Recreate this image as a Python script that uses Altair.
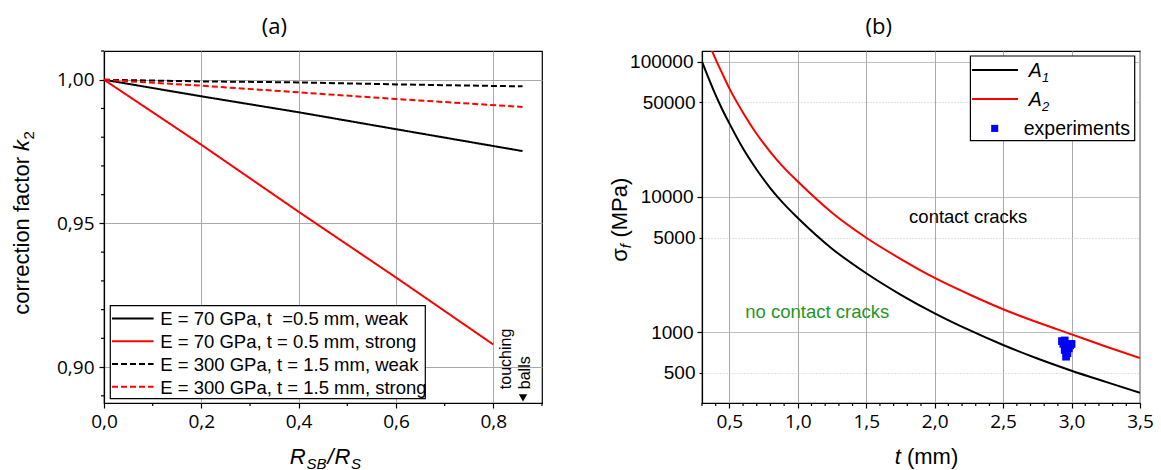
import altair as alt
import pandas as pd

# ---------------- Panel (a) data ----------------
series_a = [
    "E = 70 GPa, t \u00a0=0.5 mm, weak",
    "E = 70 GPa, t = 0.5 mm, strong",
    "E = 300 GPa, t = 1.5 mm, weak",
    "E = 300 GPa, t = 1.5 mm, strong",
]
colors_a = ["black", "red", "black", "red"]
dashes_a = [[1, 0], [1, 0], [6, 3], [6, 3]]
x_70_weak = [0.0, 0.2, 0.4, 0.6, 0.86]
k2_70_weak = [1.0, 0.99423, 0.98868, 0.98279, 0.97517]
x_70_strong = [0.0, 0.2, 0.4, 0.6, 0.8]
k2_70_strong = [1.0, 0.97737, 0.95404, 0.93118, 0.90785]
x_300_weak = [0.0, 0.2, 0.4, 0.6, 0.86]
k2_300_weak = [1.0, 0.99942, 0.99908, 0.99838, 0.99769]
x_300_strong = [0.0, 0.2, 0.4, 0.6, 0.86]
k2_300_strong = [1.0, 0.99792, 0.99561, 0.99330, 0.99053]

xa_major = [0.0, 0.2, 0.4, 0.6, 0.8]
xa_minor = [0.1, 0.3, 0.5, 0.7, 0.9]
ya_major = [0.90, 0.95, 1.00]
ya_minor = [0.89, 0.91, 0.92, 0.93, 0.94, 0.96, 0.97, 0.98, 0.99, 1.01]

# annotation (touching balls)
touch_x = [0.827, 0.866]
touch_y = [0.8923, 0.8923]
touch_txt = ["touching", "balls"]
arrow_x = [0.861]
arrow_y = [0.8893]

# ---------------- Panel (b) data ----------------
t_A1 = [0.3, 0.35, 0.4, 0.45, 0.5, 0.6, 0.7, 0.8, 0.9, 1.0, 1.25, 1.5, 1.75, 2.0, 2.25, 2.5, 2.75, 3.0, 3.25, 3.5]
s_A1 = [100000, 74800, 56700, 44000, 35000, 22800, 15900, 11600, 8850, 7000, 4150, 2730, 1900, 1380, 1040, 805, 640, 520, 430, 357]
t_A2 = [0.35, 0.4, 0.45, 0.5, 0.6, 0.7, 0.8, 0.9, 1.0, 1.25, 1.5, 1.75, 2.0, 2.25, 2.5, 2.75, 3.0, 3.25, 3.5]
s_A2 = [137000, 104000, 81000, 63500, 42000, 29200, 21500, 16400, 13000, 7650, 5000, 3490, 2520, 1910, 1480, 1185, 965, 785, 645]
t_exp = [2.93, 2.95, 2.94, 2.96, 2.95, 2.97, 2.96, 2.99, 3.00, 2.98]
s_exp = [860, 870, 820, 780, 740, 700, 660, 800, 820, 760]

xb_major = [0.5, 1.0, 1.5, 2.0, 2.5, 3.0, 3.5]
xb_minor = [0.3, 0.4, 0.6, 0.7, 0.8, 0.9, 1.1, 1.2, 1.3, 1.4, 1.6, 1.7, 1.8, 1.9,
            2.1, 2.2, 2.3, 2.4, 2.6, 2.7, 2.8, 2.9, 3.1, 3.2, 3.3, 3.4]
yb_ticks = [500, 1000, 5000, 10000, 50000, 100000]

region_txt = ["contact cracks", "no contact cracks"]
region_t = [1.813, 0.616]
region_s = [6440, 1274]
region_col = ["black", "#1f961f"]

legend_b = ["A", "A", "experiments"]
legend_b_sub = ["1", "2", ""]

W, H = 438, 352
FONT = "Liberation Sans"
TICKFONT = "Open Sans"

one = pd.DataFrame({"a": [0]})


def txt(text, x, y, size=22, style="normal", angle=0, align="left", baseline="alphabetic", color="black", font=FONT):
    return alt.Chart(one).mark_text(text=text, angle=angle, align=align, baseline=baseline, fontSize=size,
                                    fontStyle=style, font=font, color=color).encode(x=alt.value(x), y=alt.value(y))


# ---------------- Panel (a) ----------------
rows = []
for name, xs, ys in zip(series_a,
                        [x_70_weak, x_70_strong, x_300_weak, x_300_strong],
                        [k2_70_weak, k2_70_strong, k2_300_weak, k2_300_strong]):
    for xv, yv in zip(xs, ys):
        rows.append({"r": xv, "k2": yv, "series": name})
df_a = pd.DataFrame(rows)

x_a = alt.X("r:Q", scale=alt.Scale(domain=[0, 0.9], nice=False, zero=False),
            axis=alt.Axis(title=None, values=xa_major, labelFlush=False, labelOverlap=False,
                          labelExpr="replace(format(datum.value, '.1f'), '.', ',')",
                          tickSize=5, labelFont=TICKFONT, labelFontSize=19, labelPadding=4))
y_a = alt.Y("k2:Q", scale=alt.Scale(domain=[0.8875, 1.01], nice=False, zero=False),
            axis=alt.Axis(title=None, values=ya_major, labelOverlap=False,
                          labelExpr="replace(format(datum.value, '.2f'), '.', ',')",
                          tickSize=5, labelFont=TICKFONT, labelFontSize=19, labelPadding=5))

lines_a = alt.Chart(df_a).mark_line(strokeWidth=2, clip=True).encode(
    x=x_a, y=y_a,
    color=alt.Color("series:N", scale=alt.Scale(domain=series_a, range=colors_a), legend=None),
    strokeDash=alt.StrokeDash("series:N", scale=alt.Scale(domain=series_a, range=dashes_a), legend=None),
)

minor_xa = alt.Chart(pd.DataFrame({"r": xa_minor})).mark_rule(color="black", strokeWidth=1.2).encode(
    x=x_a, y=alt.value(H), y2=alt.value(H + 3))
minor_ya = alt.Chart(pd.DataFrame({"k2": ya_minor})).mark_rule(color="black", strokeWidth=1.2).encode(
    y=y_a, x=alt.value(0), x2=alt.value(-3))

touch_df = pd.DataFrame({"r": touch_x, "k2": touch_y, "txt": touch_txt})
touch = alt.Chart(touch_df).mark_text(angle=270, align="left", baseline="middle", font=FONT, fontSize=16, color="black").encode(
    x=x_a, y=y_a, text="txt:N")
arrow = alt.Chart(pd.DataFrame({"r": arrow_x, "k2": arrow_y})).mark_point(
    shape="triangle-down", filled=True, size=70, color="black", opacity=1).encode(x=x_a, y=y_a)

# manual legend (a)
leg_a = [alt.Chart(one).mark_rect(fill="white", stroke="black", strokeWidth=1.2).encode(
    x=alt.value(6.3), x2=alt.value(321.3), y=alt.value(254.7), y2=alt.value(347.7))]
for i, (name, col, dash) in enumerate(zip(series_a, colors_a, dashes_a)):
    yy = 267.4 + i * 22.77
    leg_a.append(alt.Chart(one).mark_rule(color=col, strokeWidth=2, strokeDash=dash).encode(
        x=alt.value(8), x2=alt.value(49.6), y=alt.value(yy)))
    leg_a.append(txt(name, 56.3, yy + 1, size=18.5, baseline="middle"))

# titles (a)
ya_title = [
    txt("correction factor", -82.1, 106.0, angle=270, align="right", baseline="middle"),
    txt("k", -82.1, 99.9, angle=270, align="left", baseline="middle", style="italic"),
    txt("2", -75.5, 88.4, size=15, angle=270, align="left", baseline="middle"),
]
xa_title = [
    txt("R", 185.7, 412.7, style="italic"),
    txt("SB", 202.6, 417.7, size=15, style="italic"),
    txt("/", 223.5, 412.7, style="italic"),
    txt("R", 230.5, 412.7, style="italic"),
    txt("S", 247.0, 417.7, size=15, style="italic"),
]
head_a = txt("(a)", 170.3, -17, size=22, align="center", font=TICKFONT)

chart_a = alt.layer(lines_a, minor_xa, minor_ya, touch, arrow, *leg_a, *ya_title, *xa_title, head_a).properties(
    width=W, height=H)

# ---------------- Panel (b) ----------------
major_b = "datum.value == 1000 || datum.value == 10000 || datum.value == 100000"

x_b = alt.X("t:Q", scale=alt.Scale(domain=[0.3, 3.5], nice=False, zero=False),
            axis=alt.Axis(title=None, values=xb_major, labelFlush=False, labelOverlap=False,
                          labelExpr="replace(format(datum.value, '.1f'), '.', ',')",
                          tickSize=5, labelFont=TICKFONT, labelFontSize=19, labelPadding=4))
y_b = alt.Y("s:Q", scale=alt.Scale(type="log", domain=[300, 120000], nice=False),
            axis=alt.Axis(title=None, values=yb_ticks, format="d", labelOverlap=False,
                          tickSize={"condition": {"test": major_b, "value": 5}, "value": 3},
                          gridDash={"condition": {"test": major_b, "value": [1, 0]}, "value": [1, 2]},
                          gridColor={"condition": {"test": major_b, "value": "#aaaaaa"}, "value": "#c4c4c4"},
                          labelFont=FONT, labelFontSize=19, labelPadding=4))

df_A1 = pd.DataFrame({"t": t_A1, "s": s_A1})
df_A2 = pd.DataFrame({"t": t_A2, "s": s_A2})
df_exp = pd.DataFrame({"t": t_exp, "s": s_exp})

line_A1 = alt.Chart(df_A1).mark_line(color="black", strokeWidth=2, clip=True, interpolate="monotone").encode(x=x_b, y=y_b)
line_A2 = alt.Chart(df_A2).mark_line(color="red", strokeWidth=2, clip=True, interpolate="monotone").encode(x=x_b, y=y_b)
pts = alt.Chart(df_exp).mark_square(color="#0000ff", size=60, opacity=1).encode(x=x_b, y=y_b)
minor_xb = alt.Chart(pd.DataFrame({"t": xb_minor})).mark_rule(color="black", strokeWidth=1.2).encode(
    x=x_b, y=alt.value(H), y2=alt.value(H + 3))

reg_df = pd.DataFrame({"t": region_t, "s": region_s, "txt": region_txt, "col": region_col})
regions = alt.Chart(reg_df).mark_text(align="left", baseline="alphabetic", font=FONT, fontSize=18.5).encode(
    x=x_b, y=y_b, text="txt:N", color=alt.Color("col:N", scale=None))

# manual legend (b)
leg_box = alt.Chart(one).mark_rect(fill="white", stroke="black", strokeWidth=1.2).encode(
    x=alt.value(268.4), x2=alt.value(432.7), y=alt.value(5), y2=alt.value(89.7))
leg_l1 = alt.Chart(one).mark_rule(color="black", strokeWidth=2).encode(x=alt.value(270), x2=alt.value(316), y=alt.value(19))
leg_l2 = alt.Chart(one).mark_rule(color="red", strokeWidth=2).encode(x=alt.value(270), x2=alt.value(316), y=alt.value(48))
leg_sq = alt.Chart(one).mark_square(color="#0000ff", size=50, opacity=1).encode(x=alt.value(292.7), y=alt.value(77.4))
leg_txt = [
    txt(legend_b[0], 326.7, 26, size=19.5, style="italic"),
    txt(legend_b_sub[0], 340.0, 31, size=13, style="italic"),
    txt(legend_b[1], 326.7, 55, size=19.5, style="italic"),
    txt(legend_b_sub[1], 340.0, 60, size=13, style="italic"),
    txt(legend_b[2], 321.7, 84, size=19.5),
]

yb_title = [
    txt("\u03c3", -82.3, 210.7, angle=270, align="left", baseline="middle"),
    txt("f", -76.3, 197.2, size=15, style="italic", angle=270, align="left", baseline="middle"),
    txt("(MPa)", -82.3, 186.6, angle=270, align="left", baseline="middle"),
]
xb_title = [
    txt("t", 192.7, 412.7, style="italic"),
    txt("(mm)", 204.9, 412.7),
]
head_b = txt("(b)", 176.7, -17, size=22, align="center", font=TICKFONT)

chart_b = alt.layer(line_A1, line_A2, pts, minor_xb, regions, leg_box, leg_l1, leg_l2, leg_sq, *leg_txt,
                    *yb_title, *xb_title, head_b).properties(width=W, height=H)

chart = alt.hconcat(chart_a, chart_b, spacing=64).properties(
    padding={"left": 10, "top": 15, "right": 0, "bottom": 0}
).configure_view(stroke="black", strokeWidth=1.2).configure_axis(
    domainColor="black", domainWidth=1.2, tickColor="black", tickWidth=1.2,
    gridColor="#aaaaaa", gridWidth=1, labelColor="black",
).configure_scale(continuousPadding=0)

chart.save("out.html", embed_options={"renderer": "svg", "actions": False})
